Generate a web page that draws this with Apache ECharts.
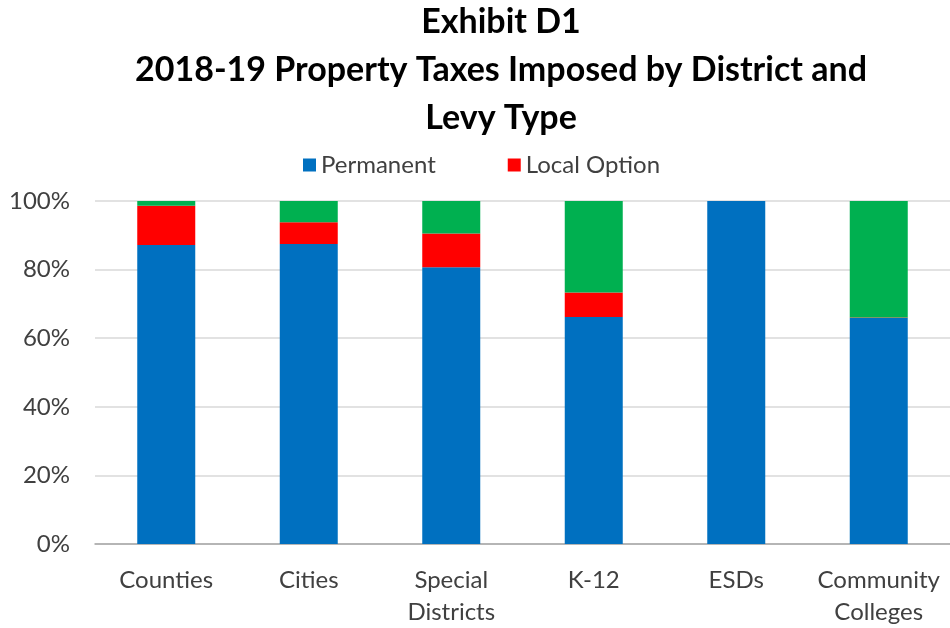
<!DOCTYPE html>
<html>
<head>
<meta charset="utf-8">
<script src="https://cdn.jsdelivr.net/npm/echarts@6/dist/echarts.min.js"></script>
<style>
  html, body { margin: 0; padding: 0; background: #fff; }
  #chart { width: 950px; height: 628px; }
</style>
</head>
<body>
<div id="chart"></div>
<script>
// categories along the x axis
var districts = ['Counties', 'Cities', 'Special\nDistricts', 'K-12', 'ESDs', 'Community\nColleges'];
// share of taxes imposed, percent
var permanent = [87.2, 87.5, 80.7, 66.2, 100, 65.9];
var localOption = [11.4, 6.3, 9.8, 7.1, 0, 0.1];
var bonds = [1.4, 6.2, 9.5, 26.7, 0, 34.0];
var yTicks = [0, 20, 40, 60, 80, 100];

var fontFamily = 'Lato, Open Sans, sans-serif';

var chart = echarts.init(document.getElementById('chart'));

function barSeries(name, color, data) {
  return {
    name: name,
    type: 'bar',
    stack: 'total',
    barWidth: 58,
    itemStyle: { color: color },
    data: data,
    animation: false
  };
}

var option = {
  backgroundColor: '#fff',
  title: {
    text: 'Exhibit D1\n2018-19 Property Taxes Imposed by District and\nLevy Type',
    left: 496,
    top: -7,
    textAlign: 'center',
    textStyle: {
      fontFamily: fontFamily,
      fontSize: 34,
      fontWeight: 'bold',
      color: '#000',
      lineHeight: 48
    }
  },
  legend: {
    data: ['Permanent', 'Local Option'],
    top: 148,
    left: 298,
    itemWidth: 13,
    itemHeight: 13,
    itemGap: 72,
    icon: 'rect',
    textStyle: { fontFamily: fontFamily, fontSize: 24, color: '#404040' }
  },
  grid: {
    left: 95,
    right: 0,
    top: 201,
    bottom: 83
  },
  xAxis: {
    type: 'category',
    data: districts,
    axisTick: { show: false },
    axisLine: { lineStyle: { color: '#A6A6A6', width: 1.5 } },
    axisLabel: {
      interval: 0,
      fontFamily: fontFamily,
      fontSize: 24,
      color: '#404040',
      margin: 20,
      lineHeight: 32
    }
  },
  yAxis: {
    type: 'value',
    min: yTicks[0],
    max: yTicks[yTicks.length - 1],
    interval: 20,
    axisLine: { show: false },
    axisTick: { show: false },
    splitLine: { lineStyle: { color: '#D9D9D9', width: 1.5 } },
    axisLabel: {
      fontFamily: fontFamily,
      fontSize: 24,
      color: '#404040',
      margin: 25,
      formatter: '{value}%'
    }
  },
  series: [
    barSeries('Permanent', '#0070C0', permanent),
    barSeries('Local Option', '#FF0000', localOption),
    barSeries('Bonds', '#00B050', bonds)
  ]
};

chart.setOption(option);
</script>
</body>
</html>
